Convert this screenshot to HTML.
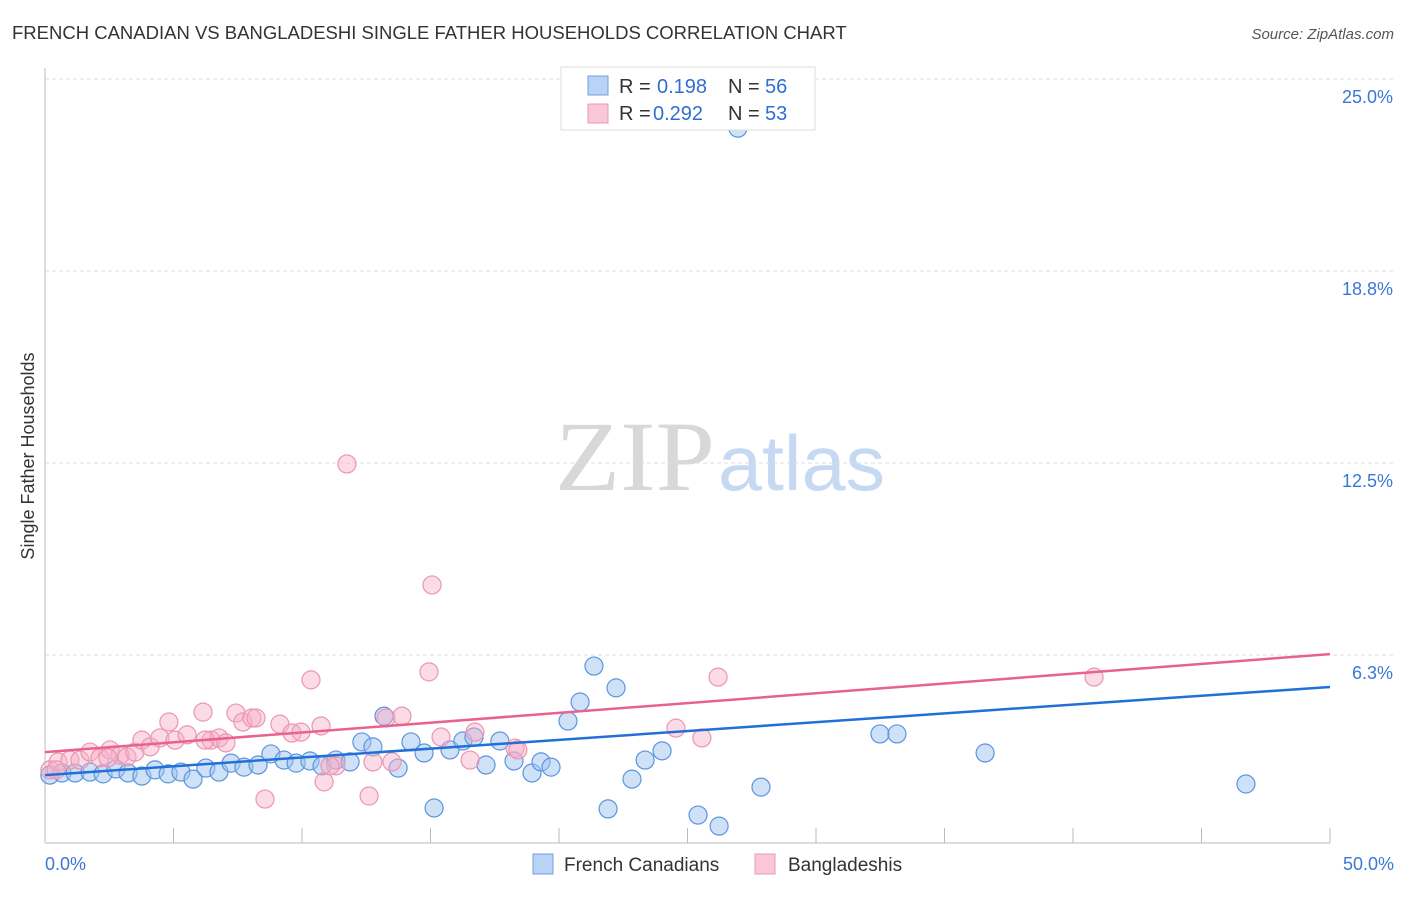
<!DOCTYPE html>
<html><head><meta charset="utf-8"><style>
body{margin:0;background:#fff;font-family:"Liberation Sans",sans-serif;}
</style></head><body>
<svg id="chart" width="1406" height="892" xmlns="http://www.w3.org/2000/svg">
<text x="12" y="39" font-size="18.5" fill="#333">FRENCH CANADIAN VS BANGLADESHI SINGLE FATHER HOUSEHOLDS CORRELATION CHART</text>
<text x="1394" y="39" font-size="15" fill="#555" font-style="italic" text-anchor="end">Source: ZipAtlas.com</text>
<text x="715" y="490" font-size="100" fill="#d8d8d8" font-family="Liberation Serif,serif" text-anchor="end" textLength="160" lengthAdjust="spacingAndGlyphs">ZIP</text>
<text x="718" y="490" font-size="78" fill="#c6d9f2" textLength="167" lengthAdjust="spacingAndGlyphs">atlas</text>
<text transform="translate(34,456) rotate(-90)" font-size="18" fill="#333" text-anchor="middle">Single Father Households</text>
<g id="grid"></g><g id="pts"></g><g id="lines"></g>
<g>
<rect x="561" y="67" width="254" height="63" fill="#fff" stroke="#ddd"/>
<rect x="588" y="76" width="20" height="19" fill="#b9d3f5" stroke="#6fa0e0"/>
<rect x="588" y="104" width="20" height="19" fill="#f9c7d6" stroke="#eb98b4"/>
<g font-size="20" fill="#333">
<text x="619" y="93">R =</text><text x="657" y="93" fill="#2f6fd0">0.198</text><text x="728" y="93">N =</text><text x="765" y="93" fill="#2f6fd0">56</text></g>
<g font-size="20" fill="#333">
<text x="619" y="120">R =</text><text x="653" y="120" fill="#2f6fd0">0.292</text><text x="728" y="120">N =</text><text x="765" y="120" fill="#2f6fd0">53</text></g>
</g>
<rect x="533" y="854" width="20" height="20" fill="#b9d3f5" stroke="#6fa0e0"/>
<text x="564" y="871" font-size="19" fill="#333">French Canadians</text>
<rect x="755" y="854" width="20" height="20" fill="#f9c7d6" stroke="#eb98b4"/>
<text x="788" y="871" font-size="19" fill="#333">Bangladeshis</text>
</svg>
<script>
const yTicks=[6.25,12.5,18.75,25];
const yTickLabels=["6.3%","12.5%","18.8%","25.0%"];
const xTickLabels=["0.0%","50.0%"];
const blueX=[0.19,0.66,1.17,1.75,2.26,2.76,3.23,3.77,4.28,4.79,5.29,5.76,6.26,6.77,7.24,7.74,8.29,8.79,9.30,9.77,10.31,10.78,11.32,11.87,12.33,12.76,13.19,13.74,14.24,14.75,15.14,15.76,16.26,16.69,17.16,17.70,18.25,18.95,19.30,19.69,20.35,20.82,21.36,21.91,22.22,22.84,23.35,24.01,25.41,26.23,26.96,27.86,32.49,33.15,36.58,46.73];
const blueY=[2.34,2.41,2.41,2.44,2.38,2.54,2.41,2.31,2.51,2.38,2.44,2.21,2.57,2.44,2.73,2.60,2.67,3.03,2.83,2.73,2.80,2.64,2.83,2.77,3.42,3.26,4.26,2.57,3.42,3.06,1.27,3.16,3.45,3.58,2.67,3.45,2.80,2.41,2.77,2.60,4.10,4.72,5.89,1.24,5.18,2.21,2.83,3.13,1.04,0.68,23.40,1.95,3.68,3.68,3.06,2.05];
const pinkX=[0.19,0.51,0.97,1.36,1.75,2.14,2.53,2.92,3.19,3.50,3.77,4.09,4.47,4.82,5.06,5.53,6.15,6.46,6.77,7.04,7.43,7.70,8.05,8.21,8.56,9.14,9.61,9.96,10.35,10.74,11.32,11.75,12.61,12.76,13.27,13.89,13.50,14.94,15.06,15.41,16.54,16.73,18.29,18.40,24.55,25.56,26.19,40.82,10.86,11.09,6.23,0.43,2.45];
const pinkY=[2.51,2.77,2.83,2.83,3.09,2.90,3.16,2.99,2.93,3.09,3.48,3.26,3.55,4.07,3.48,3.65,4.39,3.48,3.55,3.39,4.36,4.07,4.20,4.20,1.56,4.00,3.71,3.74,5.44,3.94,2.64,12.47,1.66,2.77,4.20,4.26,2.77,5.70,8.53,3.58,2.83,3.74,3.22,3.16,3.87,3.55,5.53,5.53,2.12,2.64,3.48,2.51,2.90];
const blueTrend=[2.34,5.21];
const pinkTrend=[3.09,6.28];
const NS="http://www.w3.org/2000/svg";
const X0=45,X1=1330,Y0=847,PXY=192/6.25;
const sx=v=>X0+(v/50)*(X1-X0);
const sy=v=>Y0-v*PXY;
function mk(tag,attrs,parent){const e=document.createElementNS(NS,tag);for(const k in attrs)e.setAttribute(k,attrs[k]);parent.appendChild(e);return e;}
const grid=document.getElementById('grid');
yTicks.forEach((t,i)=>{
 const l=mk('line',{x1:45,x2:1395,y1:sy(t),y2:sy(t),stroke:'#ddd','stroke-dasharray':'4,3'},grid);
 
 
 const tx=mk('text',{x:1393,y:sy(t)+24,'font-size':18,fill:'#3a78d4','text-anchor':'end'},grid);
 tx.textContent=yTickLabels[i];
 
 
});
const ax=mk('line',{x1:45,x2:45,y1:68,y2:843,stroke:'#bbb'},grid);


const bx=mk('line',{x1:45,x2:1330,y1:843,y2:843,stroke:'#bbb'},grid);


for(let v=5;v<=50;v+=5){
 const t=mk('line',{x1:sx(v),x2:sx(v),y1:828,y2:843,stroke:'#bbb'},grid);
 
 
}
[[0,'start',45],[50,'end',1394]].forEach((a,i)=>{
 const t=mk('text',{x:a[2],y:870,'font-size':18,fill:'#3a78d4','text-anchor':a[1]},grid);
 t.textContent=xTickLabels[i];
 
 
});
const pts=document.getElementById('pts');
blueX.forEach((x,i)=>{
 const c=mk('circle',{cx:sx(x),cy:sy(blueY[i]),r:9,fill:'rgba(160,196,240,0.5)',stroke:'#5b95de','stroke-width':1.2},pts);
 
 
});
pinkX.forEach((x,i)=>{
 const c=mk('circle',{cx:sx(x),cy:sy(pinkY[i]),r:9,fill:'rgba(246,175,198,0.45)',stroke:'#ec95b2','stroke-width':1.2},pts);
 
 
});
const lines=document.getElementById('lines');
const lb=mk('line',{x1:sx(0),x2:sx(50),y1:sy(blueTrend[0]),y2:sy(blueTrend[1]),stroke:'#2070d8','stroke-width':2.5},lines);


const lp=mk('line',{x1:sx(0),x2:sx(50),y1:sy(pinkTrend[0]),y2:sy(pinkTrend[1]),stroke:'#e8628f','stroke-width':2.5},lines);


</script>
</body></html>
